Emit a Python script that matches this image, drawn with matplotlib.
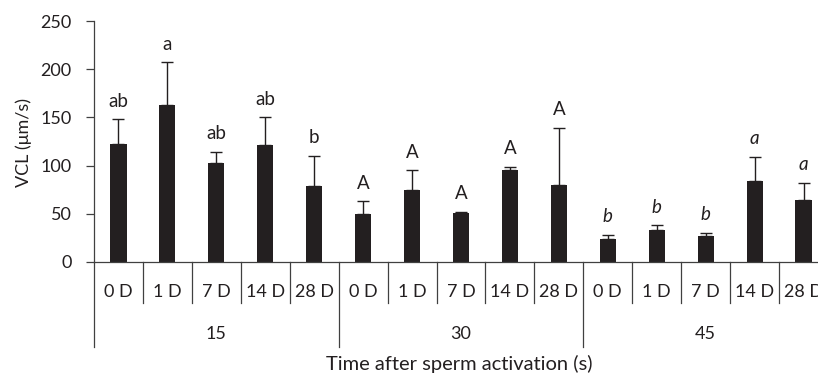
import matplotlib
matplotlib.use("Agg")
import matplotlib.pyplot as plt
import matplotlib.transforms as mtransforms

plt.rcParams['font.family'] = ['Lato', 'DejaVu Sans']

# Data
groups = ["15", "30", "45"]
days = ["0 D", "1 D", "7 D", "14 D", "28 D"]
vcl_15 = [122, 163, 103, 121, 79]
vcl_30 = [50, 75, 51, 95, 80]
vcl_45 = [24, 33, 27, 84, 64]
err_15 = [26, 44, 11, 29, 31]
err_30 = [13, 20, 1, 4, 59]
err_45 = [4, 5, 3, 25, 18]
letters_15 = ["ab", "a", "ab", "ab", "b"]
letters_30 = ["A", "A", "A", "A", "A"]
letters_45 = ["b", "b", "b", "a", "a"]

values = vcl_15 + vcl_30 + vcl_45
errors = err_15 + err_30 + err_45
letters = letters_15 + letters_30 + letters_45
letter_styles = ["normal"] * 10 + ["italic"] * 5
labels = days * len(groups)

W, H = 818, 376
fig = plt.figure(figsize=(W / 100, H / 100), dpi=100)
ax = fig.add_axes([94 / W, 1 - 262 / H, 734 / W, (262 - 21) / H])

line_col = "#404040"
text_col = "#231f20"
bar_col = "#231f20"
fs_tick = 13
fs_letter = 13.5
fs_title = 14.5

x = list(range(len(values)))
ax.bar(x, values, width=0.33, color=bar_col, zorder=2)
ax.errorbar(x, values, yerr=[[0] * len(errors), errors], fmt="none",
            ecolor=bar_col, elinewidth=1.0, capsize=4, capthick=1.0, zorder=3)

for xi, v, e, t, st in zip(x, values, errors, letters, letter_styles):
    ax.annotate(t, (xi, v + e), xytext=(0, 7), textcoords="offset points",
                ha="center", va="bottom", fontsize=fs_letter, style=st,
                color=text_col)

ax.set_xlim(-0.5, len(values) - 0.5)
ax.set_ylim(0, 250)
ax.set_yticks(range(0, 251, 50))
ax.tick_params(axis="y", direction="out", length=6, width=0.9, color=line_col,
               labelsize=fs_tick, pad=10, labelcolor=text_col)
ax.set_xticks([])
for s in ["top", "right"]:
    ax.spines[s].set_visible(False)
for s in ["left", "bottom"]:
    ax.spines[s].set_color(line_col)
    ax.spines[s].set_linewidth(0.9)

trans = mtransforms.blended_transform_factory(ax.transData, ax.transAxes)
px = 1 / 241.0  # axes fraction per pixel vertically

# Category separators (short) and group separators (long)
for i in range(len(values) + 1):
    bx = i - 0.5
    depth = 85 if i % len(days) == 0 else 41
    ax.plot([bx, bx], [0, -depth * px], transform=trans, color=line_col,
            lw=0.9, clip_on=False)

for xi, lab in zip(x, labels):
    ax.text(xi, -35 * px, lab, transform=trans, ha="center", va="baseline",
            fontsize=fs_tick, color=text_col)

for g, name in enumerate(groups):
    cx = g * len(days) + (len(days) - 1) / 2
    ax.text(cx, -77 * px, name, transform=trans, ha="center", va="baseline",
            fontsize=fs_tick, color=text_col)

fig.text(459 / W, 1 - 370 / H, "Time after sperm activation (s)", ha="center",
         va="baseline", fontsize=fs_title, color=text_col)
fig.text(24 / W, 1 - 143 / H, "VCL (μm/s)", rotation=90, ha="center",
         va="center", fontsize=fs_tick, color=text_col)

fig.savefig("out.png", dpi=100)
